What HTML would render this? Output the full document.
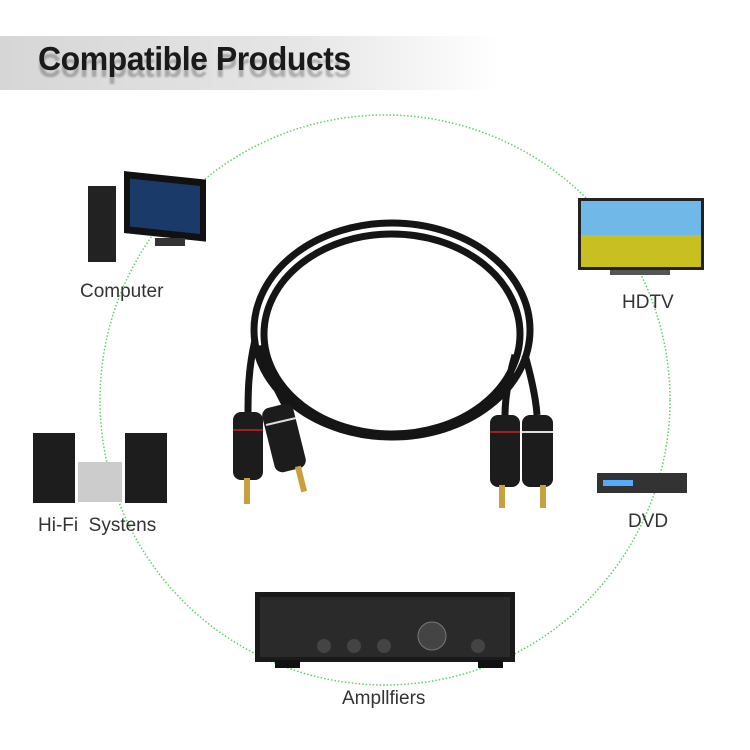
<!DOCTYPE html>
<html><head><style>
body{margin:0;width:750px;height:750px;background:#fff;position:relative;overflow:hidden;font-family:"Liberation Sans",sans-serif}
.ban{position:absolute;left:0;top:36px;width:500px;height:54px;background:linear-gradient(90deg,#d6d6d6 0%,#e6e6e6 60%,#fff 100%)}
.t{position:absolute;left:38px;top:40px;font-size:33px;font-weight:bold;color:#1a1a1a;letter-spacing:-0.5px;transform:scaleX(0.97);transform-origin:left;text-shadow:0 7px 2px rgba(0,0,0,0.25)}
.l{position:absolute;font-size:19px;color:#333}
</style></head><body>
<div class="ban"></div><div class="t">Compatible Products</div>
<svg width="750" height="750" style="position:absolute;left:0;top:0">
<circle cx="385" cy="400" r="285" fill="none" stroke="#5fcf6a" stroke-width="1.5" stroke-dasharray="1.5 2"/>
<rect x="88" y="186" width="28" height="76" fill="#222"/>
<rect x="124" y="173" width="82" height="62" fill="#111" transform="skewY(6) translate(0,-15)"/>
<rect x="130" y="180" width="70" height="48" fill="#1a3a6a" transform="skewY(6) translate(0,-15)"/>
<rect x="155" y="238" width="30" height="8" fill="#333"/>
<rect x="578" y="198" width="126" height="72" fill="#222"/>
<rect x="581" y="201" width="120" height="34" fill="#6fb8e8"/>
<rect x="581" y="235" width="120" height="32" fill="#c8c020"/>
<rect x="610" y="270" width="60" height="5" fill="#555"/>
<rect x="33" y="433" width="42" height="70" fill="#1d1d1d"/>
<rect x="125" y="433" width="42" height="70" fill="#1d1d1d"/>
<rect x="78" y="462" width="44" height="40" fill="#ccc"/>
<rect x="597" y="473" width="90" height="20" fill="#333"/>
<rect x="603" y="480" width="30" height="6" fill="#5af"/>
<rect x="255" y="592" width="260" height="70" fill="#1a1a1a"/>
<rect x="260" y="597" width="250" height="60" fill="#2a2a2a"/>
<circle cx="432" cy="636" r="14" fill="#444" stroke="#777"/>
<circle cx="324" cy="646" r="7" fill="#444"/><circle cx="354" cy="646" r="7" fill="#444"/><circle cx="384" cy="646" r="7" fill="#444"/><circle cx="478" cy="646" r="7" fill="#444"/>
<rect x="275" y="660" width="25" height="8" fill="#111"/><rect x="478" y="660" width="25" height="8" fill="#111"/>
<g fill="none" stroke="#151515" stroke-width="7">
<ellipse cx="392" cy="330" rx="138" ry="107"/>
<ellipse cx="392" cy="334" rx="128" ry="100"/>
<path d="M255 340 C248 370 248 395 248 415"/>
<path d="M262 345 C268 375 280 395 288 410"/>
<path d="M515 355 C508 380 505 400 505 415"/>
<path d="M525 355 C532 380 536 400 537 415"/>
</g>
<g fill="#1c1c1c">
<rect x="233" y="412" width="30" height="68" rx="8"/>
<rect x="268" y="405" width="32" height="66" rx="8" transform="rotate(-14 284 438)"/>
<rect x="490" y="415" width="30" height="72" rx="8"/>
<rect x="522" y="415" width="31" height="72" rx="8"/>
</g>
<g stroke-width="2"><line x1="233" y1="430" x2="263" y2="430" stroke="#a02020"/><line x1="266" y1="425" x2="296" y2="418" stroke="#ddd"/>
<line x1="490" y1="432" x2="520" y2="432" stroke="#a02020"/><line x1="522" y1="432" x2="553" y2="432" stroke="#ddd"/></g>
<g fill="#c9a040">
<rect x="244" y="478" width="6" height="26"/><rect x="298" y="466" width="6" height="26" transform="rotate(-14 301 479)"/>
<rect x="499" y="485" width="6" height="23"/><rect x="540" y="485" width="6" height="23"/>
</g>
</svg>
<div class="l" style="left:80px;top:281px">Computer</div>
<div class="l" style="left:622px;top:292px">HDTV</div>
<div class="l" style="left:38px;top:515px">Hi-Fi&nbsp; Systens</div>
<div class="l" style="left:628px;top:511px">DVD</div>
<div class="l" style="left:342px;top:688px">Ampllfiers</div>
</body></html>
